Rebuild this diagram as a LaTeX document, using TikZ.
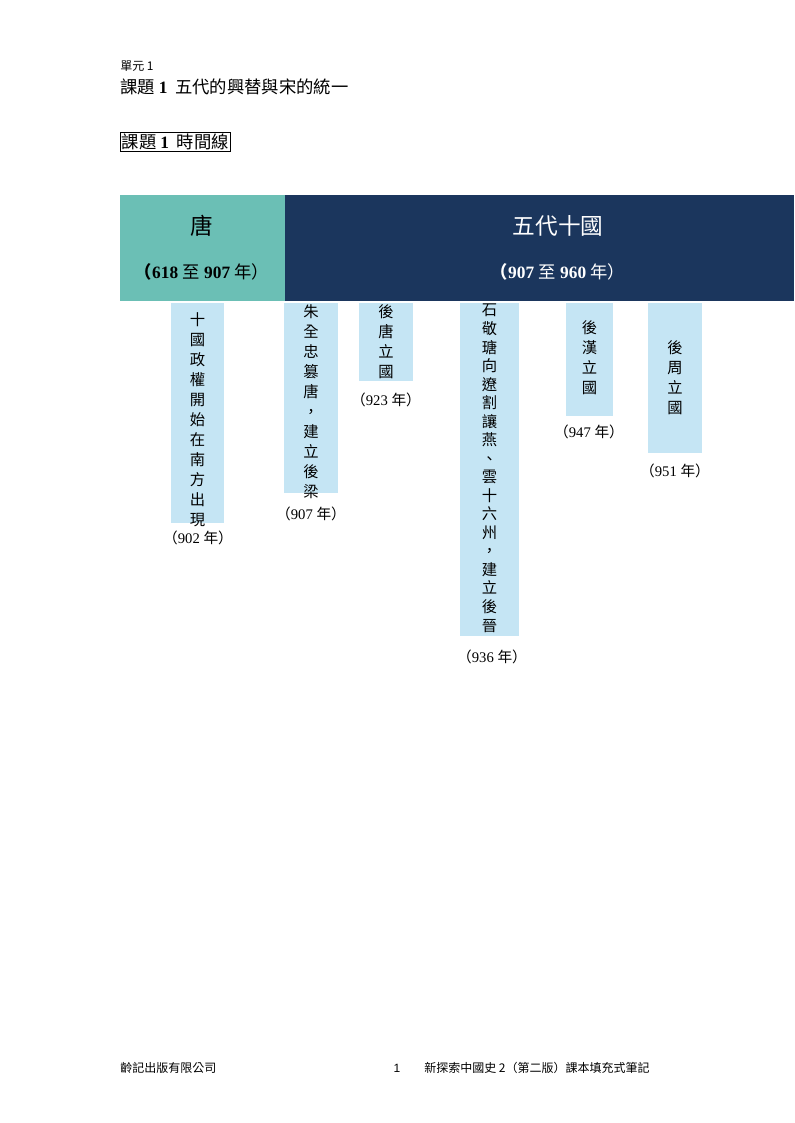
\documentclass[tikz,border=0pt]{standalone}
\usepackage{fontspec}
\setmainfont{Liberation Serif}
\setsansfont{Liberation Sans}
\newfontfamily\cjk{Noto Sans CJK TC}
\definecolor{tangteal}{HTML}{6BBFB5}
\definecolor{wudainavy}{HTML}{1B365D}
\definecolor{eventblue}{HTML}{C5E5F4}
\tikzset{
  eventbox/.style={fill=eventblue, draw=none},
  eventtext/.style={anchor=north, align=center, inner sep=0pt, font=\cjk\fontsize{11.5}{15}\selectfont},
  yearlabel/.style={anchor=center, inner sep=0pt, font=\fontsize{11}{13}\selectfont},
}
\newcommand{\yr}[1]{{\cjk（}#1 {\cjk 年）}}
\begin{document}
\begin{tikzpicture}[x=0.75pt,y=-0.75pt]
    \useasboundingbox (0,0) rectangle (794,1123);
    % heading
    \node[anchor=west,inner sep=0pt,font=\cjk\fontsize{9}{10}\selectfont] (unit) at (120,66) {單元 1};
    \node[anchor=west,inner sep=0pt,font=\cjk\fontsize{13}{15}\selectfont] (topic) at (120,87) {課題 {\rmfamily\bfseries 1}\ \ 五代的興替與宋的統一};
    \node[anchor=west,draw,line width=0.8pt,inner sep=1pt,font=\cjk\fontsize{13}{15}\selectfont] (tl) at (120,142) {課題 {\rmfamily\bfseries 1}\ \ 時間線};
    % periods
    \fill[tangteal] (120,195) rectangle (285,301);
    \fill[wudainavy] (285,195) rectangle (794,301);
    \node[font=\cjk\fontsize{17}{20}\selectfont] (tang) at (202,226) {唐};
    \node[font=\bfseries\fontsize{13}{15}\selectfont] (tangyr) at (202,272) {{\cjk（}618 {\cjk\mdseries 至} 907 {\cjk\mdseries 年）}};
    \node[white,font=\cjk\fontsize{17}{20}\selectfont] (wudai) at (558,226) {五代十國};
    \node[white,font=\bfseries\fontsize{13}{15}\selectfont] (wudaiyr) at (558,272) {{\cjk（}907 {\cjk\mdseries 至} 960 {\cjk\mdseries 年）}};
    % events
    \fill[eventbox] (171,303) rectangle (224,523);
    \node[eventtext] (ev902) at (197.5,312) {十\\國\\政\\權\\開\\始\\在\\南\\方\\出\\現};
    \node[yearlabel] (y902) at (198,538) {\yr{902}};
    \fill[eventbox] (284,303) rectangle (338,493);
    \node[eventtext] (ev907) at (311,304) {朱\\全\\忠\\篡\\唐\\，\\建\\立\\後\\梁};
    \node[yearlabel] (y907) at (311,514) {\yr{907}};
    \fill[eventbox] (359,303) rectangle (413,381);
    \node[eventtext] (ev923) at (386,304) {後\\唐\\立\\國};
    \node[yearlabel] (y923) at (386,400) {\yr{923}};
    \fill[eventbox] (460,303) rectangle (519,636);
    \node[eventtext,font=\cjk\fontsize{11.5}{13.9}\selectfont] (ev936) at (489.5,304) {石\\敬\\瑭\\向\\遼\\割\\讓\\燕\\、\\雲\\十\\六\\州\\，\\建\\立\\後\\晉};
    \node[yearlabel] (y936) at (492,657) {\yr{936}};
    \fill[eventbox] (566,303) rectangle (613,416);
    \node[eventtext] (ev947) at (589.5,320) {後\\漢\\立\\國};
    \node[yearlabel] (y947) at (589,432) {\yr{947}};
    \fill[eventbox] (648,303) rectangle (702,453);
    \node[eventtext] (ev951) at (675,340) {後\\周\\立\\國};
    \node[yearlabel] (y951) at (675,471) {\yr{951}};
    % footer
    \node[anchor=west,inner sep=0pt,font=\cjk\fontsize{9}{10}\selectfont] (pub) at (120,1068) {齡記出版有限公司};
    \node[inner sep=0pt,font=\sffamily\fontsize{9}{10}\selectfont] (page) at (397,1068) {1};
    \node[anchor=west,inner sep=0pt,font=\cjk\fontsize{9}{10}\selectfont] (book) at (424,1068) {新探索中國史 2（第二版）課本填充式筆記};
\end{tikzpicture}
\end{document}
